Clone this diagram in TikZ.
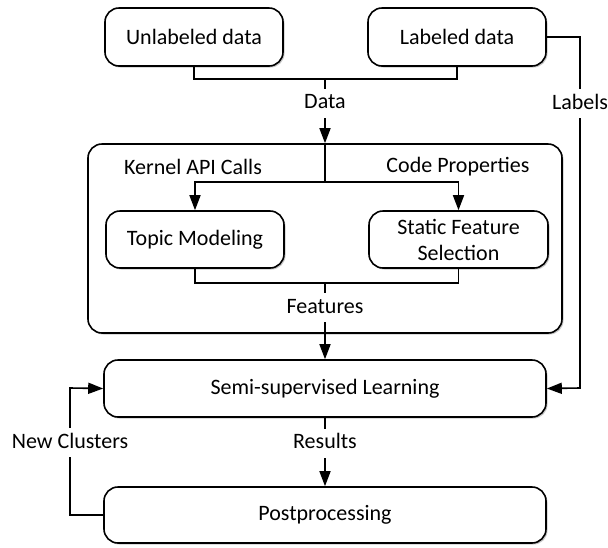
\documentclass[tikz,border=0pt]{standalone}
\usepackage{fontspec}
\setmainfont{Carlito}
\usetikzlibrary{arrows.meta,shadows}

\begin{document}
\begin{tikzpicture}[x=1pt,y=-1pt,
  font=\fontsize{22}{26}\selectfont,
  line width=1.6pt,
  box/.style={draw, rounded corners=14pt, fill=white, inner sep=0pt,
    align=center,
    drop shadow={shadow xshift=1.5pt, shadow yshift=-1.5pt, fill=black, opacity=0.22}},
  arr/.style={-{Triangle[length=15pt,width=11pt]}},
  lbl/.style={fill=white, inner xsep=3pt, inner ysep=5pt, text height=15pt, text depth=4pt},
  caption/.style={inner sep=0pt}
]
\useasboundingbox (0,0) rectangle (608,547);

% outer feature-extraction frame
\node[box, minimum width=474pt, minimum height=189pt] (frame) at (325,238.5) {};

% data sources
\node[box, minimum width=178pt, minimum height=58pt] (ul) at (194,37) {Unlabeled data};
\node[box, minimum width=178pt, minimum height=58pt] (lb) at (457,37) {Labeled data};

% feature extraction steps
\node[box, minimum width=178pt, minimum height=57pt] (tm) at (195,239.5) {Topic Modeling};
\node[box, minimum width=179pt, minimum height=57pt] (sfs) at (458.5,239.5) {Static Feature\\Selection};

% learning and postprocessing
\node[box, minimum width=442pt, minimum height=57pt] (semi) at (325,388.5) {Semi-supervised Learning};
\node[box, minimum width=442pt, minimum height=56pt] (post) at (325,515) {Postprocessing};

% captions inside the frame
\node[caption] (kac) at (193,167) {Kernel API Calls};
\node[caption] (cpr) at (458,167) {Code Properties};

% junction points
\coordinate (jd) at (325,79);
\coordinate (jk) at (325,182);
\coordinate (jf) at (325,283);
\coordinate (la) at (580,37);
\coordinate (lb2) at (580,388);
\coordinate (nc1) at (70,515);
\coordinate (nc2) at (70,388);

% data merge
\draw (ul.south) |- (jd);
\draw (lb.south) |- (jd);
\draw[arr] (jd) -- node[lbl, pos=0.38] (tdata) {Data} (frame.north);

% split into feature extraction
\draw (frame.north) -- (jk);
\draw[arr] (jk) -| (tm.north);
\draw[arr] (jk) -| (sfs.north);

% feature merge
\draw (tm.south) |- (jf);
\draw (sfs.south) |- (jf);
\draw[arr] (jf) -- node[lbl, pos=0.325] (tfeat) {Features} (semi.north);

% labels path
\draw[arr] (lb.east) -- (la) -- node[lbl, pos=0.19] (tlab) {Labels} (lb2) -- (semi.east);

% results
\draw[arr] (semi.south) -- node[lbl, pos=0.37] (tres) {Results} (post.north);

% feedback loop
\draw[arr] (post.west) -- (nc1) -- node[lbl, pos=0.567] (tnc) {New Clusters} (nc2) -- (semi.west);
\end{tikzpicture}
\end{document}
